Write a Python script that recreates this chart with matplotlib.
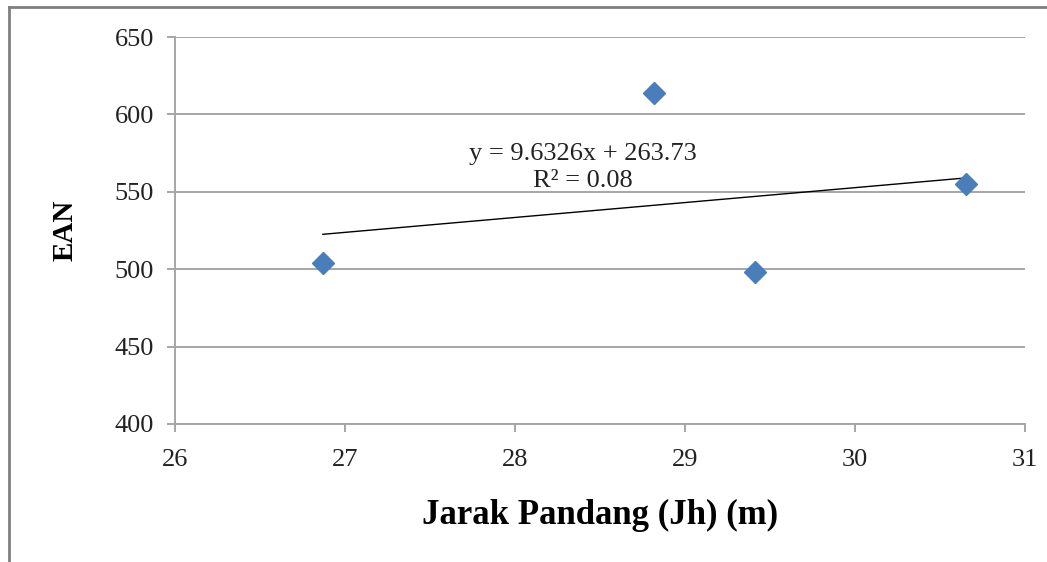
import matplotlib.pyplot as plt
from matplotlib.lines import Line2D

# data
jarak = [26.87, 28.82, 29.41, 30.65]
ean = [504, 614, 498, 555]
slope = 9.6326
intercept = 263.73
r2 = 0.08

plt.rcParams['font.family'] = ['Liberation Serif', 'DejaVu Serif']

fig = plt.figure(figsize=(10.47, 5.62), dpi=100)
ax = fig.add_axes([0.1671, 0.2456, 0.979 - 0.1671, 0.934 - 0.2456])

ax.plot(jarak, ean, linestyle='none', marker='D', markersize=11,
        color='#4a7ebb', zorder=3)

# linear trendline
x0, x1 = min(jarak), max(jarak)
ax.plot([x0, x1], [slope * x0 + intercept, slope * x1 + intercept],
        color='black', linewidth=1, zorder=2)

ax.text(28.4, 566, f"y = {slope}x + {intercept}\nR² = {r2}",
        ha='center', va='center', fontsize=19, color='#222', linespacing=1.3)

ax.set_xlim(26, 31)
ax.set_ylim(400, 650)
ax.set_xticks([26, 27, 28, 29, 30, 31])
ax.set_yticks([400, 450, 500, 550, 600, 650])
ax.grid(axis='y', color='#a6a6a6', linewidth=1.4)
ax.set_axisbelow(True)

for s in ['top', 'right']:
    ax.spines[s].set_visible(False)
for s in ['left', 'bottom']:
    ax.spines[s].set_color('#a6a6a6')
    ax.spines[s].set_linewidth(1.4)

ax.tick_params(axis='both', colors='#a6a6a6', labelcolor='#222',
               labelsize=19, length=6, width=1.4, pad=9)
ax.tick_params(axis='x', pad=12)

ax.set_xlabel("Jarak Pandang (Jh) (m)", fontsize=25, fontweight='bold', labelpad=20)
ax.set_ylabel("EAN", fontsize=21, fontweight='bold', labelpad=26)

# chart frame (only top and left edges visible in the crop)
fig.add_artist(Line2D([9 / 1047, 9 / 1047], [0, 1 - 7 / 562],
                      transform=fig.transFigure, color='#808080', linewidth=2))
fig.add_artist(Line2D([9 / 1047, 1], [1 - 7 / 562, 1 - 7 / 562],
                      transform=fig.transFigure, color='#808080', linewidth=2))

fig.savefig("out.png", dpi=100)
